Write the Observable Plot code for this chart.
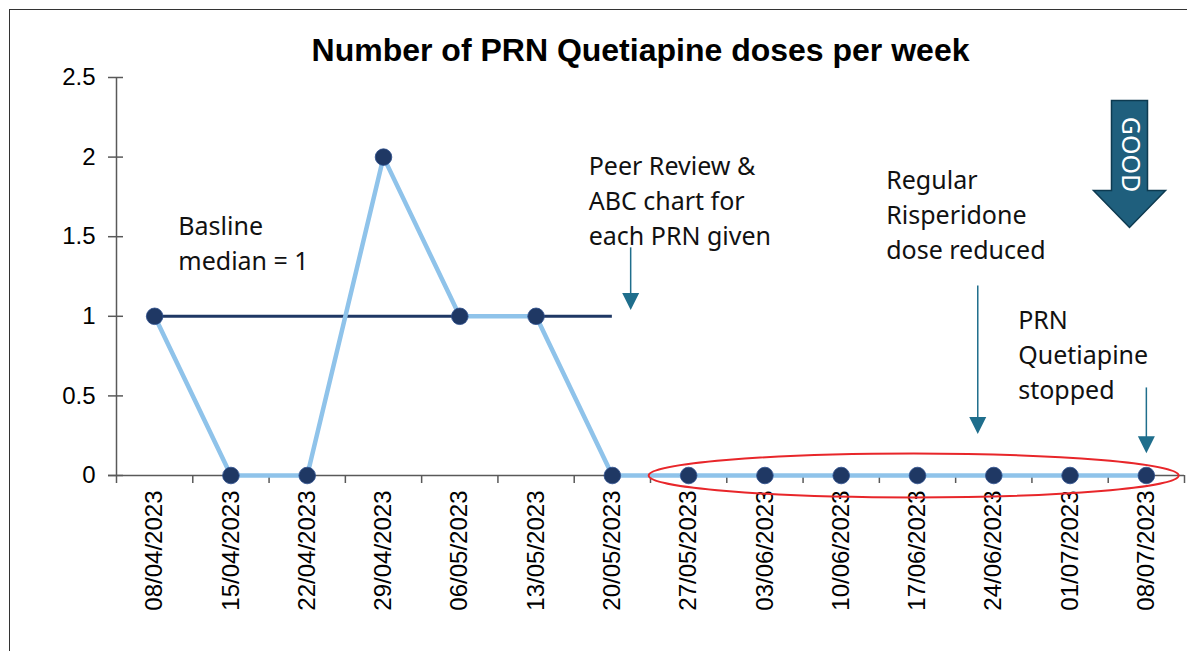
<!DOCTYPE html>
<html>
<head>
<meta charset="utf-8">
<script src="https://cdn.jsdelivr.net/npm/d3@7"></script>
<script src="https://cdn.jsdelivr.net/npm/@observablehq/plot@0.6"></script>
<style>
  html, body { margin: 0; padding: 0; background: #fff; }
  #wrap { position: relative; width: 1187px; height: 651px; overflow: hidden; }
  #frame { position: absolute; left: 9px; top: 9px; width: 1400px; height: 800px;
           border-left: 1.5px solid #333; border-top: 1.5px solid #333; pointer-events: none; }
</style>
</head>
<body>
<div id="wrap"><div id="frame"></div></div>
<script>
// ---- data ----
const title = "Number of PRN Quetiapine doses per week";
const weeks = ["08/04/2023","15/04/2023","22/04/2023","29/04/2023","06/05/2023","13/05/2023","20/05/2023",
               "27/05/2023","03/06/2023","10/06/2023","17/06/2023","24/06/2023","01/07/2023","08/07/2023"];
const doses = [1, 0, 0, 2, 1, 1, 0, 0, 0, 0, 0, 0, 0, 0];
const yTicks = [0, 0.5, 1, 1.5, 2, 2.5];
const medianValue = 1;
const medianFrom = 0;   // index into weeks
const medianTo = 6;

// annotations (x in week-index units, y in dose units)
const noteText = ["Basline\nmedian = 1", "Peer Review &\nABC chart for\neach PRN given",
                  "Regular\nRisperidone\ndose reduced", "PRN\nQuetiapine\nstopped"];
const noteX = [0.31, 5.69, 9.59, 11.32];
const noteY = [1.47, 1.74, 1.65, 0.77];

const arrowX = [6.24, 10.79, 13.0];
const arrowTop = [1.43, 1.19, 0.55];
const arrowTip = [1.04, 0.26, 0.14];

const highlightCenter = 9.95; // red ellipse around the zero run
const goodLabel = "GOOD";

// ---- tables ----
const series = weeks.map((w, i) => ({i, week: w, doses: doses[i]}));
const median = [{x1: medianFrom, x2: medianTo, y: medianValue}];
const notes = noteText.map((t, i) => ({text: t, x: noteX[i], y: noteY[i]}));
const arrows = arrowX.map((x, i) => ({x, y1: arrowTop[i], y2: arrowTip[i]}));

// ---- symbols ----
const triDown = {draw(c) { c.moveTo(-8.5, -17); c.lineTo(8.5, -17); c.lineTo(0, 0); c.closePath(); }};
function ellipseSym(rx, ry) {
  const k = 0.5523;
  return {draw(c) {
    c.moveTo(rx, 0);
    c.bezierCurveTo(rx, ry * k, rx * k, ry, 0, ry);
    c.bezierCurveTo(-rx * k, ry, -rx, ry * k, -rx, 0);
    c.bezierCurveTo(-rx, -ry * k, -rx * k, -ry, 0, -ry);
    c.bezierCurveTo(rx * k, -ry, rx, -ry * k, rx, 0);
    c.closePath();
  }};
}
const blockArrow = {draw(c) {
  c.moveTo(-18, 0); c.lineTo(18, 0); c.lineTo(18, 90); c.lineTo(36, 90);
  c.lineTo(0, 127); c.lineTo(-36, 90); c.lineTo(-18, 90); c.closePath();
}};

const axisColor = "#595959";
const bounds = d3.range(-0.5, weeks.length, 1);

const chart = Plot.plot({
  width: 1187,
  height: 651,
  marginLeft: 116,
  marginRight: 3,
  marginTop: 77,
  marginBottom: 176,
  style: {fontFamily: "'Liberation Sans', Arial, sans-serif", background: "transparent", overflow: "visible"},
  x: {type: "linear", domain: [-0.5, weeks.length - 0.5], axis: null},
  y: {domain: [0, 2.5], axis: null},
  marks: [
    // title
    Plot.text([title], {frameAnchor: "top", dx: -10, dy: -17, lineAnchor: "bottom",
      fontSize: 32, fontWeight: "bold", fill: "#000"}),
    // y axis
    Plot.ruleX([-0.5], {y1: 0, y2: 2.5, stroke: axisColor, strokeWidth: 1.5}),
    Plot.ruleY(yTicks, {y: d => d, x1: -0.5, x2: -0.5, insetLeft: -8, insetRight: -7, stroke: axisColor, strokeWidth: 1.5}),
    Plot.axisY({ticks: yTicks, tickSize: 0, tickPadding: 21, tickFormat: d => String(d), fontSize: 24, fill: "#000", label: null}),
    // x axis
    Plot.ruleY([0], {x1: -0.5, x2: weeks.length - 0.5, insetLeft: -8, stroke: axisColor, strokeWidth: 1.5}),
    Plot.ruleX(bounds, {x: d => d, y1: 0, y2: 0, insetBottom: -8, stroke: axisColor, strokeWidth: 1.5}),
    Plot.axisX({ticks: d3.range(weeks.length), tickSize: 0, tickPadding: 15, tickRotate: -90,
      tickFormat: i => weeks[i], fontSize: 24, fill: "#000", label: null}),
    // median
    Plot.ruleY(median, {x1: "x1", x2: "x2", y: "y", stroke: "#1f3864", strokeWidth: 3}),
    // series
    Plot.line(series, {x: "i", y: "doses", stroke: "#8fc3ea", strokeWidth: 4.5}),
    Plot.dot(series, {x: "i", y: "doses", r: 8.3, fill: "#1f3864", stroke: "#2b4c8c", strokeWidth: 0.8}),
    // red highlight ellipse
    Plot.dot([0], {x: () => highlightCenter, y: () => 0, symbol: ellipseSym(265, 22), fill: "none", stroke: "#e8262a", strokeWidth: 2}),
    // annotations
    Plot.text(notes, {x: "x", y: "y", text: "text", textAnchor: "start", lineAnchor: "middle",
      fontFamily: "'Noto Sans', sans-serif", fontSize: 25, lineHeight: 1.4, fill: "#111"}),
    Plot.ruleX(arrows, {x: "x", y1: "y1", y2: "y2", insetBottom: 10, stroke: "#1f6e8c", strokeWidth: 1.5}),
    Plot.dot(arrows, {x: "x", y: "y2", symbol: triDown, fill: "#1f6e8c", stroke: "none"}),
    // GOOD arrow
    Plot.dot([0], {frameAnchor: "top-right", dx: -55, dy: 23, symbol: blockArrow,
      fill: "#1f5f7d", stroke: "#0d3a50", strokeWidth: 1.5}),
    Plot.text([goodLabel], {frameAnchor: "top-right", dx: -55, dy: 77, rotate: 90,
      fontFamily: "'Noto Sans', sans-serif", fontSize: 25, fill: "#fff", textAnchor: "middle", lineAnchor: "middle"})
  ]
});
chart.style.position = "absolute";
chart.style.left = "0px";
chart.style.top = "0px";
document.getElementById("wrap").prepend(chart);
</script>
</body>
</html>
